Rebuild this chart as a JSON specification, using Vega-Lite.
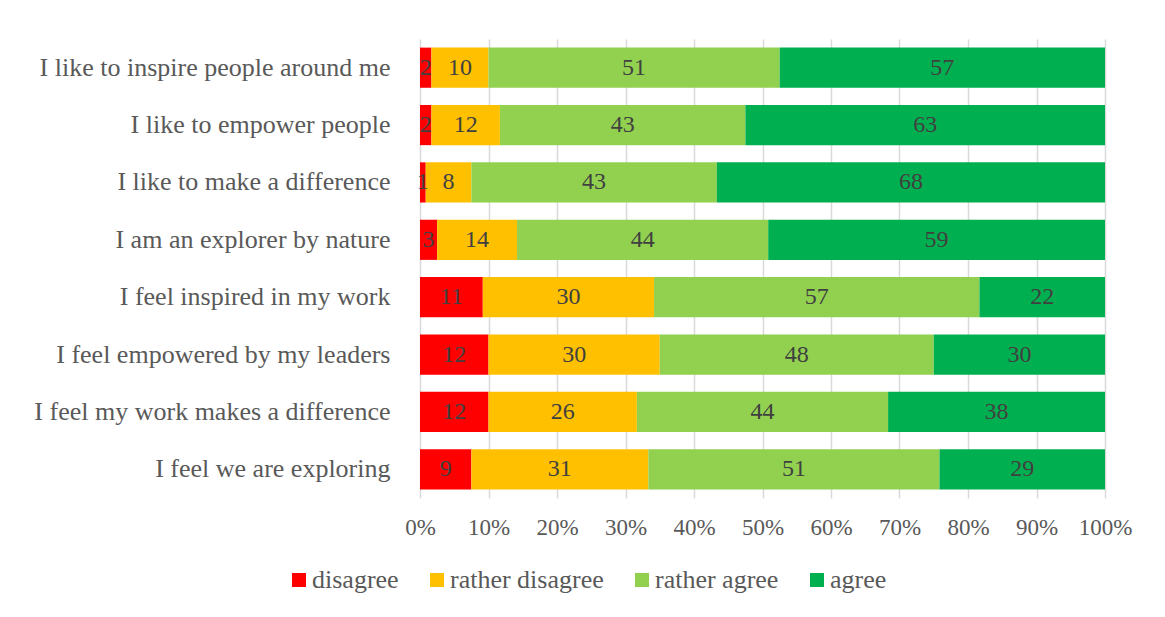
{
  "$schema": "https://vega.github.io/schema/vega-lite/v6.json",
  "width": 685,
  "height": 459,
  "autosize": {"type": "none"},
  "padding": {"left": 420, "top": 39, "right": 60, "bottom": 119},
  "background": "white",
  "config": {
    "view": {"stroke": null},
    "font": "Liberation Serif",
    "legend": {"padding": 0}
  },
  "data": {
    "values": [
      {"q": "I like to inspire people around me", "answer": "disagree", "level": 1, "n": 2},
      {"q": "I like to inspire people around me", "answer": "rather disagree", "level": 2, "n": 10},
      {"q": "I like to inspire people around me", "answer": "rather agree", "level": 3, "n": 51},
      {"q": "I like to inspire people around me", "answer": "agree", "level": 4, "n": 57},
      {"q": "I like to empower people", "answer": "disagree", "level": 1, "n": 2},
      {"q": "I like to empower people", "answer": "rather disagree", "level": 2, "n": 12},
      {"q": "I like to empower people", "answer": "rather agree", "level": 3, "n": 43},
      {"q": "I like to empower people", "answer": "agree", "level": 4, "n": 63},
      {"q": "I like to make a difference", "answer": "disagree", "level": 1, "n": 1},
      {"q": "I like to make a difference", "answer": "rather disagree", "level": 2, "n": 8},
      {"q": "I like to make a difference", "answer": "rather agree", "level": 3, "n": 43},
      {"q": "I like to make a difference", "answer": "agree", "level": 4, "n": 68},
      {"q": "I am an explorer by nature", "answer": "disagree", "level": 1, "n": 3},
      {"q": "I am an explorer by nature", "answer": "rather disagree", "level": 2, "n": 14},
      {"q": "I am an explorer by nature", "answer": "rather agree", "level": 3, "n": 44},
      {"q": "I am an explorer by nature", "answer": "agree", "level": 4, "n": 59},
      {"q": "I feel inspired in my work", "answer": "disagree", "level": 1, "n": 11},
      {"q": "I feel inspired in my work", "answer": "rather disagree", "level": 2, "n": 30},
      {"q": "I feel inspired in my work", "answer": "rather agree", "level": 3, "n": 57},
      {"q": "I feel inspired in my work", "answer": "agree", "level": 4, "n": 22},
      {"q": "I feel empowered by my leaders", "answer": "disagree", "level": 1, "n": 12},
      {"q": "I feel empowered by my leaders", "answer": "rather disagree", "level": 2, "n": 30},
      {"q": "I feel empowered by my leaders", "answer": "rather agree", "level": 3, "n": 48},
      {"q": "I feel empowered by my leaders", "answer": "agree", "level": 4, "n": 30},
      {"q": "I feel my work makes a difference", "answer": "disagree", "level": 1, "n": 12},
      {"q": "I feel my work makes a difference", "answer": "rather disagree", "level": 2, "n": 26},
      {"q": "I feel my work makes a difference", "answer": "rather agree", "level": 3, "n": 44},
      {"q": "I feel my work makes a difference", "answer": "agree", "level": 4, "n": 38},
      {"q": "I feel we are exploring", "answer": "disagree", "level": 1, "n": 9},
      {"q": "I feel we are exploring", "answer": "rather disagree", "level": 2, "n": 31},
      {"q": "I feel we are exploring", "answer": "rather agree", "level": 3, "n": 51},
      {"q": "I feel we are exploring", "answer": "agree", "level": 4, "n": 29}
    ]
  },
  "transform": [
    {"stack": "n", "groupby": ["q"], "sort": [{"field": "level", "order": "ascending"}], "offset": "normalize", "as": ["s0", "s1"]},
    {"calculate": "(datum.s0 + datum.s1) / 2", "as": "mid"}
  ],
  "encoding": {
    "y": {
      "field": "q",
      "type": "nominal",
      "sort": [
        "I like to inspire people around me",
        "I like to empower people",
        "I like to make a difference",
        "I am an explorer by nature",
        "I feel inspired in my work",
        "I feel empowered by my leaders",
        "I feel my work makes a difference",
        "I feel we are exploring"
      ],
      "scale": {"paddingInner": 0.3, "paddingOuter": 0.15},
      "axis": {
        "title": null,
        "domain": false,
        "ticks": false,
        "labelFont": "Liberation Serif",
        "labelFontSize": 26,
        "labelColor": "#595959",
        "labelPadding": 30,
        "labelLimit": 400
      }
    }
  },
  "layer": [
    {
      "mark": {"type": "bar"},
      "encoding": {
        "x": {
          "field": "s0",
          "type": "quantitative",
          "scale": {"domain": [0, 1], "nice": false},
          "axis": {
            "title": null,
            "format": "%",
            "values": [0, 0.1, 0.2, 0.3, 0.4, 0.5, 0.6, 0.7, 0.8, 0.9, 1],
            "domain": false,
            "ticks": false,
            "grid": true,
            "gridColor": "#d9d9d9",
            "gridWidth": 1.5,
            "labelFont": "Liberation Serif",
            "labelFontSize": 23,
            "labelColor": "#595959",
            "labelPadding": 18,
            "labelFlush": false
          }
        },
        "x2": {"field": "s1"},
        "color": {
          "field": "answer",
          "type": "nominal",
          "scale": {
            "domain": ["disagree", "rather disagree", "rather agree", "agree"],
            "range": ["#ff0000", "#ffc000", "#92d050", "#00b050"]
          },
          "legend": {
            "title": null,
            "orient": "none",
            "direction": "horizontal",
            "legendX": -134,
            "legendY": 528,
            "symbolType": "square",
            "symbolSize": 196,
            "symbolStrokeWidth": 0,
            "labelFont": "Liberation Serif",
            "labelFontSize": 26,
            "labelColor": "#595959",
            "labelOffset": 0,
            "columnPadding": 25,
            "labelLimit": 300
          }
        }
      }
    },
    {
      "mark": {"type": "text", "font": "Liberation Serif", "fontSize": 24, "color": "#404040", "baseline": "middle", "align": "center"},
      "encoding": {
        "x": {"field": "mid", "type": "quantitative"},
        "text": {"field": "n", "type": "quantitative"}
      }
    }
  ]
}
